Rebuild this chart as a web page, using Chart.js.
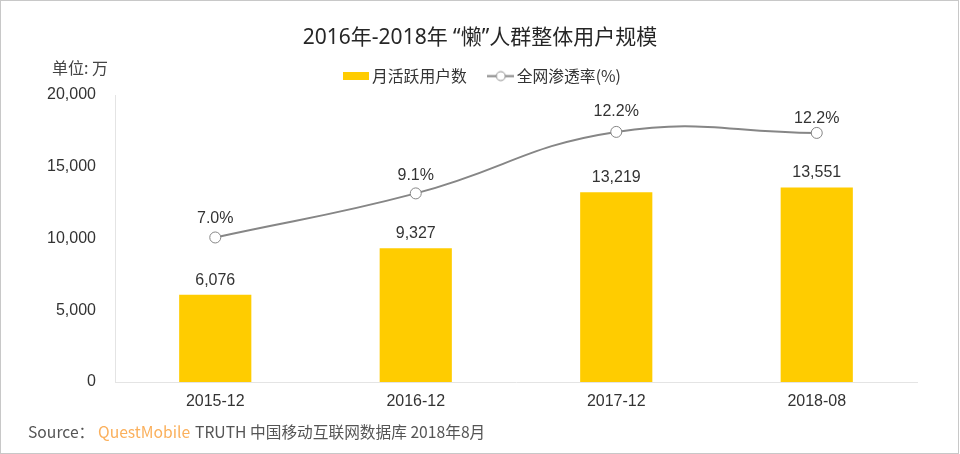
<!DOCTYPE html>
<html>
<head>
<meta charset="utf-8">
<style>
  html, body { margin: 0; padding: 0; background: #fff; }
  #wrap { position: relative; width: 960px; height: 454px; overflow: hidden; }
  #wrap::after { content: ''; position: absolute; left: 0; top: 0; right: 1px; bottom: 0; border: 1px solid #c8c8c8; pointer-events: none; }
  canvas { display: block; }
</style>
<script src="https://cdn.jsdelivr.net/npm/chart.js@4"></script>
</head>
<body>
<div id="wrap"><canvas id="chart" width="960" height="454"></canvas></div>
<script>
'use strict';

const CATEGORIES = ['2015-12', '2016-12', '2017-12', '2018-08'];
const MAU = [6076, 9327, 13219, 13551];
const PENETRATION = [7.05, 9.2, 12.2, 12.15];
const PENETRATION_LABELS = ['7.0%', '9.1%', '12.2%', '12.2%'];
const Y_TICKS = [0, 5000, 10000, 15000, 20000];

const SANS = '"Liberation Sans", "Noto Sans CJK SC", sans-serif';
const CJK = '"Noto Sans CJK SC", "Liberation Sans", sans-serif';
const TEXT = '#333333';
const BAR_LABEL_LIFT = 14.5;
const LINE_LABEL_LIFT = [19, 18, 20, 14];

function formatInt(x) {
  return Math.round(x).toLocaleString('en-US');
}

function barSwatch() {
  const c = document.createElement('canvas');
  c.width = 26; c.height = 8;
  const g = c.getContext('2d');
  g.fillStyle = '#ffcc00';
  g.fillRect(0, 0, 26, 8);
  return c;
}

function lineSwatch() {
  const c = document.createElement('canvas');
  c.width = 27; c.height = 13;
  const g = c.getContext('2d');
  g.strokeStyle = '#868686';
  g.lineWidth = 2;
  g.beginPath(); g.moveTo(0, 6.5); g.lineTo(27, 6.5); g.stroke();
  g.fillStyle = '#fff';
  g.lineWidth = 1;
  g.beginPath(); g.arc(13.5, 6.5, 4.5, 0, Math.PI * 2); g.fill(); g.stroke();
  return c;
}

// value labels above the marks, plus the two loose captions
const annotate = {
  id: 'annotate',
  afterLayout(chart) {
    // nudge the title and legend without changing the plot area
    chart.titleBlock.top += 7;
    chart.titleBlock.bottom += 7;
    chart.legend.top -= 1;
    chart.legend.bottom -= 1;
    chart.legend.left += 4.5;
    chart.legend.right += 4.5;
  },
  afterDatasetsDraw(chart) {
    const g = chart.ctx;
    g.save();
    g.fillStyle = TEXT;
    g.font = '16px ' + SANS;
    g.textAlign = 'center';
    g.textBaseline = 'middle';
    chart.getDatasetMeta(1).data.forEach((el, i) => {
      g.fillText(formatInt(MAU[i]), el.x, el.y - BAR_LABEL_LIFT);
    });
    chart.getDatasetMeta(0).data.forEach((el, i) => {
      g.fillText(PENETRATION_LABELS[i], el.x, el.y - LINE_LABEL_LIFT[i]);
    });

    g.textAlign = 'left';
    g.fillStyle = '#444444';
    g.font = '16px ' + CJK;
    g.fillText('单位: 万', 52, 68);

    g.font = '15.7px ' + CJK;
    g.fillStyle = '#555555';
    g.fillText('Source：', 28, 432);
    g.fillStyle = '#fbb05c';
    g.fillText('QuestMobile', 98, 432);
    g.fillStyle = '#555555';
    g.fillText('TRUTH 中国移动互联网数据库 2018年8月', 195, 432);
    g.restore();
  },
};

new Chart(document.getElementById('chart'), {
  data: {
    labels: CATEGORIES,
    datasets: [
      {
        type: 'line',
        label: '全网渗透率(%)',
        data: PENETRATION,
        yAxisID: 'y1',
        order: 0,
        borderColor: '#868686',
        borderWidth: 2,
        tension: 0.45,
        pointRadius: 5.5,
        pointBorderWidth: 1,
        pointBorderColor: '#868686',
        pointBackgroundColor: '#ffffff',
      },
      {
        type: 'bar',
        label: '月活跃用户数',
        data: MAU,
        yAxisID: 'y',
        order: 1,
        backgroundColor: '#ffcc00',
        barPercentage: 0.36,
        categoryPercentage: 1,
      },
    ],
  },
  options: {
    responsive: false,
    animation: false,
    devicePixelRatio: 1,
    layout: { padding: 0 },
    plugins: {
      tooltip: { enabled: false },
      title: {
        display: true,
        text: '2016年-2018年 “懒”人群整体用户规模',
        color: '#262626',
        font: { family: '"Noto Sans", "Noto Sans CJK SC", sans-serif', size: 21, weight: 'normal' },
        padding: { top: 18, bottom: 0 },
      },
      legend: {
        display: true,
        position: 'top',
        labels: {
          color: TEXT,
          font: { family: CJK, size: 15.8 },
          usePointStyle: true,
          pointStyleWidth: 16,
          padding: 26,
          generateLabels: () => [
            { text: '月活跃用户数', pointStyle: barSwatch(), datasetIndex: 1, fontColor: TEXT, lineWidth: 0 },
            { text: '全网渗透率(%)', pointStyle: lineSwatch(), datasetIndex: 0, fontColor: TEXT, lineWidth: 0 },
          ],
        },
      },
    },
    scales: {
      x: {
        grid: { display: false, drawTicks: false },
        border: { color: '#e4e4e4', width: 1 },
        ticks: { color: TEXT, font: { family: SANS, size: 16 }, padding: 10, maxRotation: 0 },
        afterFit(s) { s.height = 72; },
      },
      y: {
        min: 0,
        max: 20000,
        grid: { display: false, drawTicks: false },
        border: { color: '#e4e4e4', width: 1 },
        afterBuildTicks(s) { s.ticks = Y_TICKS.map(v => ({ value: v })); },
        ticks: {
          color: TEXT,
          font: { family: SANS, size: 16 },
          padding: 19,
          callback: v => formatInt(v),
        },
        afterFit(s) { s.width = 115; },
      },
      // hidden penetration axis, also holds the right margin so the title stays centred
      y1: {
        min: 0,
        max: 14,
        position: 'right',
        grid: { display: false, drawTicks: false },
        border: { display: false },
        ticks: { display: false },
        afterFit(s) { s.width = 43; },
      },
    },
  },
  plugins: [annotate],
});
</script>
</body>
</html>
